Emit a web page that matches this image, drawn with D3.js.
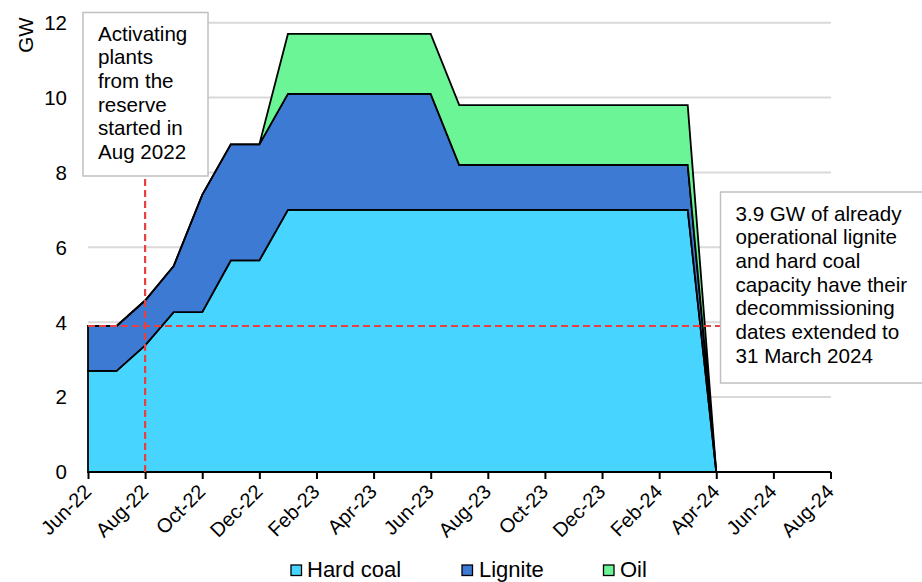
<!DOCTYPE html>
<html>
<head>
<meta charset="utf-8">
<script src="https://cdn.jsdelivr.net/npm/d3@7"></script>
<style>
  html, body { margin: 0; padding: 0; background: #fff; }
  svg { display: block; font-family: "Liberation Sans", Arial, sans-serif; }
</style>
</head>
<body>
<svg id="chart" width="922" height="582"></svg>
<script>
// ---- data ----
const months = ["Jun-22","Jul-22","Aug-22","Sep-22","Oct-22","Nov-22","Dec-22",
  "Jan-23","Feb-23","Mar-23","Apr-23","May-23","Jun-23","Jul-23","Aug-23","Sep-23",
  "Oct-23","Nov-23","Dec-23","Jan-24","Feb-24","Mar-24","Apr-24","May-24","Jun-24",
  "Jul-24","Aug-24"];
const hardCoal = [2.7,2.7,3.38,4.27,4.27,5.65,5.65,7.0,7.0,7.0,7.0,7.0,7.0,7.0,7.0,7.0,7.0,7.0,7.0,7.0,7.0,7.0,0,0,0,0,0];
const lignite  = [1.2,1.2,1.2,1.23,3.13,3.1,3.1,3.1,3.1,3.1,3.1,3.1,3.1,1.2,1.2,1.2,1.2,1.2,1.2,1.2,1.2,1.2,0,0,0,0,0];
const oil      = [0,0,0,0,0,0,0,1.6,1.6,1.6,1.6,1.6,1.6,1.6,1.6,1.6,1.6,1.6,1.6,1.6,1.6,1.6,0,0,0,0,0];
const seriesNames = ["Hard coal","Lignite","Oil"];
const seriesColors = ["#47d4fe","#3c7ad4","#6cf596"];
const yTicks = [0,2,4,6,8,10,12];
const xTickLabels = months.filter((d,i) => i % 2 === 0);
const yLabel = "GW";
const reserveLevel = 3.9;
const reserveStart = "Aug-22";
const noteLeft = ["Activating","plants","from the","reserve","started in","Aug 2022"];
const noteRight = ["3.9 GW of already","operational lignite","and hard coal","capacity have their","decommissioning","dates extended to","31 March 2024"];

// ---- layout ----
const svg = d3.select("#chart");
const x = d3.scalePoint().domain(months).range([88, 830.5]);
const y = d3.scaleLinear().domain([0, 12]).range([472, 22.7]);

const rows = months.map((m, i) => ({month: m, "Hard coal": hardCoal[i], "Lignite": lignite[i], "Oil": oil[i]}));
const stacked = d3.stack().keys(seriesNames)(rows);

// gridlines
svg.append("g").selectAll("line").data(yTicks.filter(v => v > 0)).join("line")
  .attr("x1", 88).attr("x2", 831)
  .attr("y1", d => y(d)).attr("y2", d => y(d))
  .attr("stroke", "#d9d9d9").attr("stroke-width", 2);

// areas
const area = d3.area()
  .x((d, i) => x(months[i]))
  .y0(d => y(d[0]))
  .y1(d => y(d[1]));
svg.append("g").selectAll("path").data(stacked).join("path")
  .attr("d", area)
  .attr("fill", (d, i) => seriesColors[i])
  .attr("stroke", "#000").attr("stroke-width", 1.8)
  .attr("stroke-linejoin", "miter");

// x axis
const xAxis = d3.axisBottom(x).tickValues(xTickLabels).tickSize(7).tickSizeOuter(0);
const gx = svg.append("g").attr("transform", "translate(0,472)").call(xAxis);
gx.select(".domain").attr("stroke", "#000").attr("stroke-width", 2.2).attr("d", "M88,0H831");
gx.selectAll(".tick line").attr("stroke", "#000").attr("stroke-width", 2);
gx.selectAll(".tick text")
  .attr("font-size", 20).attr("fill", "#000")
  .attr("text-anchor", "end")
  .attr("y", 0).attr("dy", 0)
  .attr("transform", "translate(4,21) rotate(-45)");

// y axis labels
svg.append("g").selectAll("text").data(yTicks).join("text")
  .attr("x", 67).attr("y", d => y(d)).attr("dy", "0.36em")
  .attr("text-anchor", "end").attr("font-size", 20.5).attr("fill", "#000")
  .text(d => d);
svg.append("text")
  .attr("transform", "translate(33,35) rotate(-90)")
  .attr("text-anchor", "middle").attr("font-size", 20.5).attr("fill", "#000")
  .text(yLabel);

// red dashed reference lines
svg.append("line")
  .attr("x1", 88).attr("x2", 720).attr("y1", y(reserveLevel)).attr("y2", y(reserveLevel))
  .attr("stroke", "#e84040").attr("stroke-width", 2.2).attr("stroke-dasharray", "7,4");
svg.append("line")
  .attr("x1", x(reserveStart)).attr("x2", x(reserveStart)).attr("y1", 472).attr("y2", 176)
  .attr("stroke", "#e84040").attr("stroke-width", 2.2).attr("stroke-dasharray", "7,4");

// annotation boxes
function note(bx, by, bw, bh, tx, ty, lines) {
  const g = svg.append("g");
  g.append("rect").attr("x", bx).attr("y", by).attr("width", bw).attr("height", bh)
    .attr("fill", "#fff").attr("stroke", "#c0c0c0").attr("stroke-width", 1.5);
  g.append("g").selectAll("text").data(lines).join("text")
    .attr("x", tx).attr("y", (d, i) => ty + i * 23.7)
    .attr("font-size", 20.6).attr("fill", "#000").text(d => d);
}
note(83, 12.5, 125, 163.5, 98, 40.5, noteLeft);
note(720.5, 192, 210, 191, 735.5, 220.5, noteRight);

// legend
const legendPos = [{sx: 291, tx: 307}, {sx: 462, tx: 479}, {sx: 603.5, tx: 620}];
const lg = svg.append("g");
seriesNames.forEach((name, i) => {
  lg.append("rect").attr("x", legendPos[i].sx).attr("y", 565).attr("width", 10.5).attr("height", 10.5)
    .attr("fill", seriesColors[i]).attr("stroke", "#000").attr("stroke-width", 1.3);
  lg.append("text").attr("x", legendPos[i].tx).attr("y", 576.5)
    .attr("font-size", 22).attr("fill", "#000").text(name);
});
</script>
</body>
</html>
